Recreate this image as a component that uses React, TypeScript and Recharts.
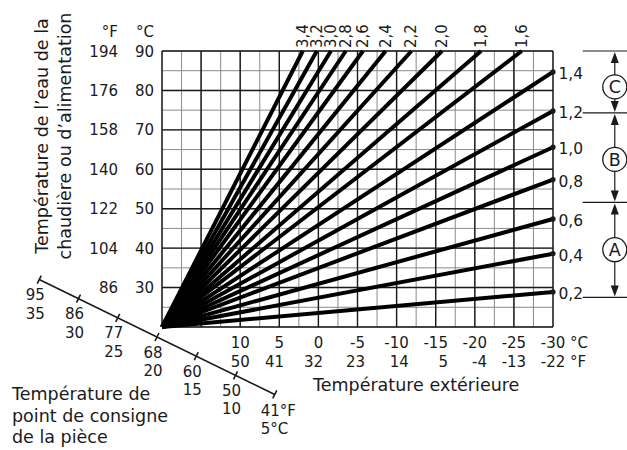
import {
  ComposedChart,
  Line,
  XAxis,
  YAxis,
  CartesianGrid,
  ReferenceLine,
  ReferenceDot,
} from "recharts";

const FONT = "'DejaVu Sans', sans-serif";
const INK = "#1a1a1a";

// heating curves that run out at the right edge (outdoor -30 °C): supply temp there
const lowCurves = ["0,2", "0,4", "0,6", "0,8", "1,0", "1,2", "1,4"];
const lowCurveSupplyAtMinus30 = [28.9, 38.6, 47.4, 57.4, 65.6, 74.8, 84.7];

// steeper curves that hit the 90 °C ceiling: outdoor temp where they reach it
const highCurves = ["1,6", "1,8", "2,0", "2,2", "2,4", "2,6", "2,8", "3,0", "3,2", "3,4"];
const highCurveOutdoorAt90 = [-26.0, -20.8, -15.8, -11.9, -8.6, -5.7, -3.5, -1.6, 0.2, 2.0];

const curveOrigin = { t: 20, v: 20 };

// outdoor axis (°C, reversed) and its °F twin
const outdoorGrid = [20, 17.5, 15, 12.5, 10, 7.5, 5, 2.5, 0, -2.5, -5, -7.5, -10, -12.5, -15, -17.5, -20, -22.5, -25, -27.5, -30];
const outdoorMajor = [20, 15, 10, 5, 0, -5, -10, -15, -20, -25, -30];
const outdoorC = [10, 5, 0, -5, -10, -15, -20, -25, -30];
const outdoorF = ["50", "41", "32", "23", "14", "5", "-4", "-13", "-22"];

// supply water axis
const supplyGrid = [20, 25, 30, 35, 40, 45, 50, 55, 60, 65, 70, 75, 80, 85, 90];
const supplyMajor = [20, 30, 40, 50, 60, 70, 80, 90];
const supplyC = [90, 80, 70, 60, 50, 40, 30];
const supplyF = ["194", "176", "158", "140", "122", "104", "86"];

// room setpoint (oblique scale)
const roomC = [35, 30, 25, 20, 15, 10, 5];
const roomF = ["95", "86", "77", "68", "60", "50", "41"];

// where the oblique room scale sits in outdoor/supply units
const roomAt20 = { t: 20.64, v: 17.46 };
const roomStep = { t: 1.004, v: 0.971 };
const roomPoint = (r: number) => ({
  x: roomAt20.t - (20 - r) * roomStep.t,
  y: roomAt20.v + (r - 20) * roomStep.v,
});

// A / B / C ranges on the right
const bracketBounds = [90, 74.3, 51.6, 27.5];
const bracketLetters = ["C", "B", "A"];
const bracketCircleAt = [80.9, 62.5, 39.6];
const bracketLineFrom = -33.8;
const bracketLineTo = -40;
const bracketArrowAt = -37.9;

const curves = [
  ...lowCurves.map((name, i) => ({
    name,
    end: "right",
    data: [curveOrigin, { t: -30, v: lowCurveSupplyAtMinus30[i] }],
  })),
  ...highCurves.map((name, i) => ({
    name,
    end: "top",
    data: [curveOrigin, { t: highCurveOutdoorAt90[i], v: 90 }],
  })),
];

const digitWidth = (s: string, size: number) =>
  s.split("").reduce((w, ch) => w + (ch === "-" ? 0.361 : 0.636), 0) * size;

const txt = { fontFamily: FONT, fill: INK };

function OutdoorTick(props: any) {
  const { x, y, payload } = props;
  const i = outdoorC.indexOf(payload.value);
  if (i < 0) return <g />;
  const c = String(outdoorC[i]);
  const right = x + digitWidth(c, 15) / 2;
  return (
    <g>
      <text x={x} y={y + 21} textAnchor="middle" fontSize={15} {...txt}>
        {c}
      </text>
      <text x={right} y={y + 39.5} textAnchor="end" fontSize={15} {...txt}>
        {outdoorF[i]}
      </text>
      {i === outdoorC.length - 1 && (
        <>
          <text x={x + 17} y={y + 21} fontSize={15} {...txt}>°C</text>
          <text x={x + 17} y={y + 39.5} fontSize={15} {...txt}>°F</text>
        </>
      )}
    </g>
  );
}

function SupplyTick(props: any) {
  const { x, y, payload } = props;
  const i = supplyC.indexOf(payload.value);
  if (i < 0) return <g />;
  return (
    <g>
      <text x={x - 8} y={y + 5.5} textAnchor="end" fontSize={15} {...txt}>
        {supplyC[i]}
      </text>
      <text x={x - 44} y={y + 5.5} textAnchor="end" fontSize={15} {...txt}>
        {supplyF[i]}
      </text>
      {i === 0 && (
        <>
          <text x={x - 8} y={y - 14.5} textAnchor="end" fontSize={15} {...txt}>°C</text>
          <text x={x - 44} y={y - 14.5} textAnchor="end" fontSize={15} {...txt}>°F</text>
        </>
      )}
    </g>
  );
}

const curveEnd = (name: string, end: string) => (p: any) => {
  if (p.index !== 1) return <g key={`${name}-${p.index}`} />;
  if (end === "right") {
    return (
      <g key={`${name}-end`}>
        <circle cx={p.cx} cy={p.cy} r={2.6} fill={INK} />
        <text x={p.cx + 5.5} y={p.cy + 7} fontSize={15.5} {...txt}>
          {name}
        </text>
      </g>
    );
  }
  return (
    <text
      key={`${name}-end`}
      transform={`translate(${p.cx + 5},${p.cy - 3}) rotate(-90)`}
      fontSize={15}
      {...txt}
    >
      {name}
    </text>
  );
};

const roomTick = (i: number) => (p: any) => {
  const { cx, cy } = p;
  const last = i === roomC.length - 1;
  return (
    <g>
      <line x1={cx - 2} y1={cy + 4} x2={cx + 2} y2={cy - 4} stroke={INK} strokeWidth={1.6} />
      {last ? (
        <>
          <text x={cx - 14} y={cy + 21.5} fontSize={15} {...txt}>{roomF[i]}°F</text>
          <text x={cx - 14} y={cy + 39.5} fontSize={15} {...txt}>{roomC[i]}°C</text>
        </>
      ) : (
        <>
          <text x={cx - 4} y={cy + 20.5} textAnchor="middle" fontSize={15} {...txt}>{roomF[i]}</text>
          <text x={cx - 4} y={cy + 39} textAnchor="middle" fontSize={15} {...txt}>{roomC[i]}</text>
        </>
      )}
    </g>
  );
};

function Arrow(p: any) {
  const { x1, y1, x2, y2 } = p;
  const top = Math.min(y1, y2);
  const bot = Math.max(y1, y2);
  return (
    <g>
      <line x1={x1} y1={top + 10} x2={x2} y2={bot - 10} stroke={INK} strokeWidth={1.2} />
      <path d={`M${x1},${top + 1} L${x1 - 4},${top + 12} L${x1 + 4},${top + 12} Z`} fill={INK} />
      <path d={`M${x1},${bot - 1} L${x1 - 4},${bot - 12} L${x1 + 4},${bot - 12} Z`} fill={INK} />
    </g>
  );
}

export default function App() {
  const roomEnds = [roomPoint(roomC[0]), roomPoint(roomC[roomC.length - 1])];
  return (
    <div style={{ position: "absolute", left: 0, top: 0, width: 627, height: 450, background: "#fff" }}>
      <ComposedChart
        width={627}
        height={450}
        margin={{ top: 51, right: 74, bottom: 93, left: 0 }}
      >
        <XAxis
          type="number"
          dataKey="t"
          domain={[-30, 20]}
          reversed
          ticks={outdoorGrid}
          interval={0}
          tick={<OutdoorTick />}
          tickLine={false}
          axisLine={false}
          tickSize={0}
          tickMargin={0}
          height={30}
        />
        <YAxis
          type="number"
          dataKey="v"
          domain={[20, 90]}
          ticks={supplyGrid}
          interval={0}
          tick={<SupplyTick />}
          tickLine={false}
          axisLine={false}
          tickSize={0}
          tickMargin={0}
          width={162}
        />

        <CartesianGrid stroke="#8a8a8a" strokeWidth={1} />
        {outdoorMajor.map((t) => (
          <ReferenceLine key={`vx${t}`} x={t} stroke={INK} strokeWidth={1.4} ifOverflow="visible" />
        ))}
        {supplyMajor.map((v) => (
          <ReferenceLine key={`hy${v}`} y={v} stroke={INK} strokeWidth={1.4} ifOverflow="visible" />
        ))}

        {curves.map((c) => (
          <Line
            key={c.name}
            data={c.data}
            dataKey="v"
            type="linear"
            stroke="#000"
            strokeWidth={4}
            dot={curveEnd(c.name, c.end)}
            activeDot={false}
            isAnimationActive={false}
          />
        ))}

        {/* oblique room setpoint scale */}
        <ReferenceLine segment={roomEnds} stroke={INK} strokeWidth={1.6} ifOverflow="visible" />
        {roomC.map((r, i) => {
          const pt = roomPoint(r);
          return (
            <ReferenceDot
              key={`room${r}`}
              x={pt.x}
              y={pt.y}
              r={3}
              ifOverflow="visible"
              shape={roomTick(i)}
            />
          );
        })}

        {/* A / B / C brackets */}
        {bracketBounds.map((v) => (
          <ReferenceLine
            key={`br${v}`}
            segment={[
              { x: bracketLineFrom, y: v },
              { x: bracketLineTo, y: v },
            ]}
            stroke={INK}
            strokeWidth={1.2}
            ifOverflow="visible"
          />
        ))}
        {bracketLetters.map((l, i) => (
          <ReferenceLine
            key={`ar${l}`}
            segment={[
              { x: bracketArrowAt, y: bracketBounds[i] },
              { x: bracketArrowAt, y: bracketBounds[i + 1] },
            ]}
            ifOverflow="visible"
            shape={(p: any) => <Arrow {...p} />}
          />
        ))}
        {bracketLetters.map((l, i) => (
          <ReferenceDot
            key={`ci${l}`}
            x={bracketArrowAt}
            y={bracketCircleAt[i]}
            r={12}
            ifOverflow="visible"
            shape={(p: any) => (
              <g>
                <circle cx={p.cx} cy={p.cy} r={12} fill="#fff" stroke={INK} strokeWidth={1.3} />
                <text x={p.cx} y={p.cy + 6.3} textAnchor="middle" fontSize={17.5} {...txt}>
                  {l}
                </text>
              </g>
            )}
          />
        ))}

        {/* titles */}
        <text x={313} y={391} fontSize={17.5} {...txt}>Température extérieure</text>
        <text transform="translate(48,136) rotate(-90)" textAnchor="middle" fontSize={17.5} {...txt}>
          Température de l’eau de la
        </text>
        <text transform="translate(71,136) rotate(-90)" textAnchor="middle" fontSize={17.5} {...txt}>
          chaudière ou d’alimentation
        </text>
        <text x={12} y={400} fontSize={17.5} {...txt}>Température de</text>
        <text x={12} y={421.5} fontSize={17.5} {...txt}>point de consigne</text>
        <text x={12} y={443} fontSize={17.5} {...txt}>de la pièce</text>
      </ComposedChart>
    </div>
  );
}
